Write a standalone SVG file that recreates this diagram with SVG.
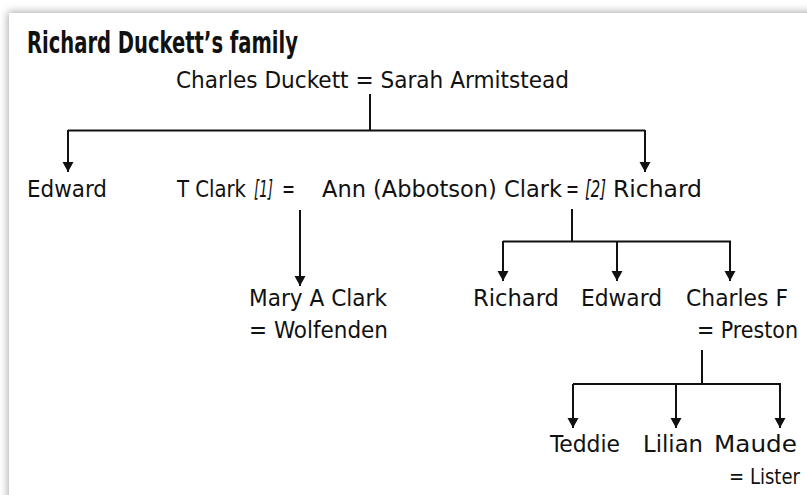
<svg xmlns="http://www.w3.org/2000/svg" width="807" height="495" viewBox="0 0 807 495">
<defs>
  <filter id="shadow" x="-5%" y="-5%" width="110%" height="110%">
    <feDropShadow dx="-1" dy="-1" stdDeviation="4" flood-color="#000" flood-opacity="0.35"/>
  </filter>
  <marker id="arrow" markerUnits="userSpaceOnUse" markerWidth="12" markerHeight="12" refX="10" refY="5.5" orient="auto">
    <path d="M0,0 L10,5.5 L0,11 z" fill="#111"/>
  </marker>
</defs>
<style>
  .t { font-family: "DejaVu Sans Condensed", "DejaVu Sans", sans-serif; font-stretch: condensed; font-size: 23px; fill: #111; }
  .i { font-style: italic; }
  .title { font-family: "DejaVu Sans Condensed", "DejaVu Sans", sans-serif; font-stretch: condensed; font-weight: bold; font-size: 30px; fill: #111; }
  .c { fill: none; stroke: #111; stroke-width: 2; }
  .a { fill: none; stroke: #111; stroke-width: 2; marker-end: url(#arrow); }
</style>
<rect x="0" y="0" width="807" height="495" fill="#fff"/>
<rect x="9" y="13" width="820" height="500" fill="#fff" filter="url(#shadow)"/>

<text id="title" class="title" x="27" y="53" textLength="271" lengthAdjust="spacingAndGlyphs">Richard Duckett’s family</text>

<g id="connectors">
  <path class="c" d="M370,94 V130.5 M68,130.5 H645"/>
  <path class="a" d="M68,130 V172"/>
  <path class="a" d="M645,130 V172"/>
  <path class="a" d="M300,210 V286"/>
  <path class="c" d="M572,209 V241.5 M503,241.5 H731"/>
  <path class="a" d="M503,241 V281"/>
  <path class="a" d="M617,241 V281"/>
  <path class="a" d="M730,241 V281"/>
  <path class="c" d="M702,350 V384 M573,384 H781"/>
  <path class="a" d="M573,384 V428"/>
  <path class="a" d="M676,384 V428"/>
  <path class="a" d="M780,384 V428"/>
</g>

<g id="parents">
  <text class="t" x="176" y="88" textLength="393" lengthAdjust="spacingAndGlyphs">Charles Duckett = Sarah Armitstead</text>
</g>
<g id="edward">
  <text class="t" x="27" y="197" textLength="80" lengthAdjust="spacingAndGlyphs">Edward</text>
</g>
<g id="tclark">
  <text class="t" x="177" y="197" textLength="69" lengthAdjust="spacingAndGlyphs">T Clark</text>
  <text class="t i" x="254" y="197" textLength="19" lengthAdjust="spacingAndGlyphs">[1]</text>
  <text class="t" x="282" y="197" textLength="13" lengthAdjust="spacingAndGlyphs">=</text>
</g>
<g id="ann">
  <text class="t" x="322" y="197" textLength="240" lengthAdjust="spacingAndGlyphs">Ann (Abbotson) Clark</text>
  <text class="t" x="566" y="197" textLength="13" lengthAdjust="spacingAndGlyphs">=</text>
</g>
<g id="richard">
  <text class="t i" x="585" y="197" textLength="21" lengthAdjust="spacingAndGlyphs">[2]</text>
  <text class="t" x="613" y="197" textLength="89" lengthAdjust="spacingAndGlyphs">Richard</text>
</g>
<g id="mary">
  <text class="t" x="249" y="306" textLength="138" lengthAdjust="spacingAndGlyphs">Mary A Clark</text>
  <text class="t" x="249" y="338" textLength="139" lengthAdjust="spacingAndGlyphs">= Wolfenden</text>
</g>
<g id="richard2">
  <text class="t" x="473" y="306" textLength="86" lengthAdjust="spacingAndGlyphs">Richard</text>
</g>
<g id="edward2">
  <text class="t" x="581" y="306" textLength="81" lengthAdjust="spacingAndGlyphs">Edward</text>
</g>
<g id="charlesf">
  <text class="t" x="686" y="306" textLength="102" lengthAdjust="spacingAndGlyphs">Charles F</text>
  <text class="t" x="697" y="338" textLength="101" lengthAdjust="spacingAndGlyphs">= Preston</text>
</g>
<g id="teddie">
  <text class="t" x="550" y="452" textLength="70" lengthAdjust="spacingAndGlyphs">Teddie</text>
</g>
<g id="lilian">
  <text class="t" x="643" y="452" textLength="60" lengthAdjust="spacingAndGlyphs">Lilian</text>
</g>
<g id="maude">
  <text class="t" x="714" y="452" textLength="83" lengthAdjust="spacingAndGlyphs">Maude</text>
  <text class="t" x="729" y="484" style="font-size:21.5px" textLength="71" lengthAdjust="spacingAndGlyphs">= Lister</text>
</g>
</svg>
